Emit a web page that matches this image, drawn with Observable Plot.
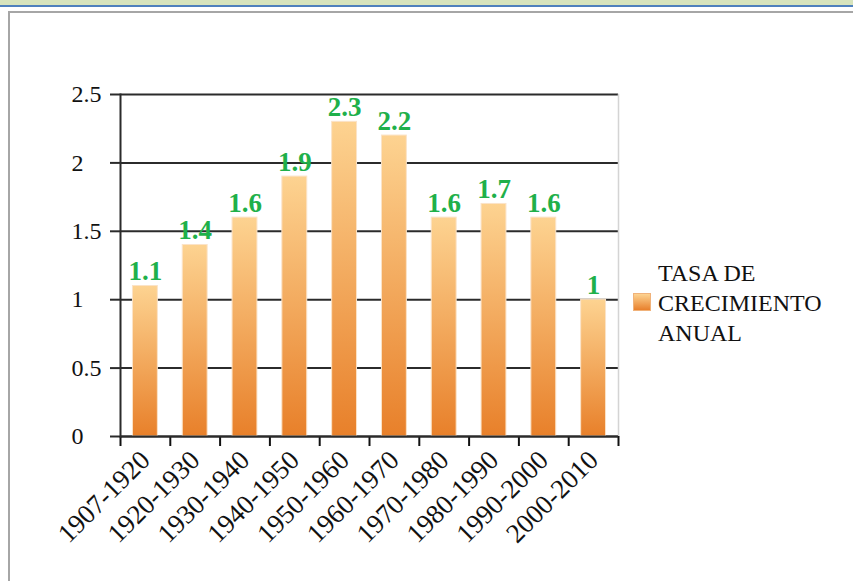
<!DOCTYPE html>
<html>
<head>
<meta charset="utf-8">
<script src="https://cdn.jsdelivr.net/npm/d3@7"></script>
<script src="https://cdn.jsdelivr.net/npm/@observablehq/plot@0.6"></script>
<style>
  html, body { margin: 0; padding: 0; background: #fff; }
  #wrap { position: relative; width: 853px; height: 581px; overflow: hidden; background: #fff; font-family: "Liberation Serif", serif; }
  #strip { position: absolute; left: 0; top: 0; width: 853px; height: 5px; background: #d7e4bd; border-bottom: 2px solid #4f81bd; }
  #frame { position: absolute; left: 8px; top: 11px; width: 860px; height: 600px; border-left: 2px solid #a6a6a6; border-top: 2px solid #a6a6a6; }
  #chart { position: absolute; left: 0; top: 0; }
  #legend { position: absolute; left: 633px; top: 258px; font-size: 24px; line-height: 30px; color: #111; }
  #legend .sw { position: absolute; left: 0; top: 35px; width: 18px; height: 18px; background: linear-gradient(#fdd391, #e8802c); border: 1px solid #f0b27a; box-sizing: border-box; }
  #legend .txt { margin-left: 25px; white-space: nowrap; }
</style>
</head>
<body>
<div id="wrap">
  <div id="strip"></div>
  <div id="frame"></div>
  <div id="chart"></div>
  <div id="legend"><div class="sw"></div><div class="txt">TASA DE<br>CRECIMIENTO<br>ANUAL</div></div>
</div>
<script>
const periods = ["1907-1920","1920-1930","1930-1940","1940-1950","1950-1960","1960-1970","1970-1980","1980-1990","1990-2000","2000-2010"];
const rates = [1.1, 1.4, 1.6, 1.9, 2.3, 2.2, 1.6, 1.7, 1.6, 1.0];
const yTicks = [0, 0.5, 1, 1.5, 2, 2.5];
const seriesName = "TASA DE CRECIMIENTO ANUAL";

const data = periods.map((p, i) => ({period: p, rate: rates[i]}));
const step = (853 - 120 - 235) / periods.length;
const tickLen = 10 / 342 * 2.5; // 10px below the axis, in data units

const chart = Plot.plot({
  width: 853,
  height: 581,
  marginLeft: 120,
  marginRight: 235,
  marginTop: 94,
  marginBottom: 145,
  style: {fontFamily: "Liberation Serif, serif", fontSize: "24px", color: "#111", background: "transparent", overflow: "visible"},
  x: {domain: periods, paddingInner: 0.5, paddingOuter: 0.25, round: false, label: null},
  y: {domain: [0, 2.5], ticks: yTicks, label: null},
  marks: [
    Plot.ruleY(yTicks, {stroke: "#2b2b2b", strokeWidth: 2}),
    Plot.frame({anchor: "right", stroke: "#d4d4d4", strokeWidth: 1.5}),
    Plot.barY(data, {x: "period", y: "rate", fill: "url(#barGrad)", stroke: "#fbe3c8", strokeWidth: 1}),
    Plot.axisY(yTicks, {tickSize: 10, tickFormat: () => "", stroke: "#2b2b2b", strokeWidth: 2}),
    Plot.axisY(yTicks, {tickSize: 0, tickPadding: 49, textAnchor: "start", fontSize: 24, fill: "#111", tickFormat: d => String(d)}),
    Plot.axisX({tickSize: 0, tickRotate: -45, tickPadding: 19, fontSize: 27, fill: "#111", label: null}),
    Plot.ruleX(periods, {x: d => d, dx: -step / 2, y1: 0, y2: -tickLen, stroke: "#111", strokeWidth: 2}),
    Plot.ruleX([periods[periods.length - 1]], {x: d => d, dx: step / 2, y1: 0, y2: -tickLen, stroke: "#111", strokeWidth: 2}),
    Plot.ruleY([0], {stroke: "#2b2b2b", strokeWidth: 2}),
    Plot.frame({anchor: "left", stroke: "#2b2b2b", strokeWidth: 2}),
    Plot.text(data, {x: "period", y: "rate", text: d => String(d.rate), lineAnchor: "bottom", dy: -6, fill: "#1fb04a", fontWeight: "bold", fontSize: 27})
  ]
});

const svg = d3.select(chart);
const defs = svg.insert("defs", ":first-child");
const g = defs.append("linearGradient").attr("id", "barGrad").attr("x1", 0).attr("y1", 0).attr("x2", 0).attr("y2", 1);
g.append("stop").attr("offset", "0%").attr("stop-color", "#fdd391");
g.append("stop").attr("offset", "100%").attr("stop-color", "#e8802a");

document.getElementById("chart").appendChild(chart);
</script>
</body>
</html>
